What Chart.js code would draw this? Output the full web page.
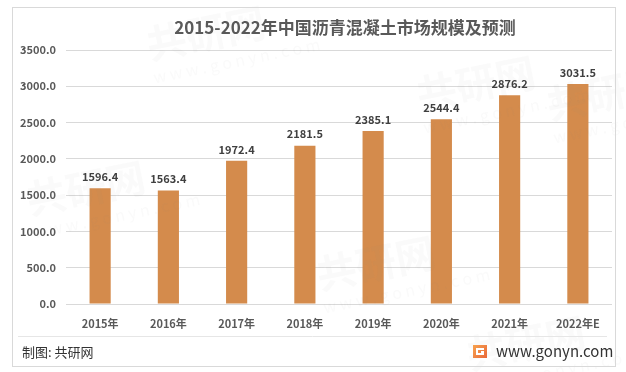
<!DOCTYPE html>
<html>
<head>
<meta charset="utf-8">
<script src="https://cdn.jsdelivr.net/npm/chart.js@4/dist/chart.umd.min.js"></script>
<style>
  html, body { margin: 0; padding: 0; background: #fff; }
  canvas { display: block; }
</style>
</head>
<body>
<canvas id="chart" width="626" height="372"></canvas>
<script>
const categories = ["2015年", "2016年", "2017年", "2018年", "2019年", "2020年", "2021年", "2022年E"];
const marketSize = [1596.4, 1563.4, 1972.4, 2181.5, 2385.1, 2544.4, 2876.2, 3031.5];
const yMin = 0;
const yMax = 3500;
const yStep = 500;

const TITLE = "2015-2022年中国沥青混凝土市场规模及预测";
const FONT = '"Noto Sans CJK SC", "Noto Sans", sans-serif';

// background, frame, title, value labels, footer
const decor = {
  id: "decor",
  beforeDraw(chart) {
    const ctx = chart.ctx;
    ctx.save();
    ctx.fillStyle = "#ffffff";
    ctx.fillRect(0, 0, chart.width, chart.height);
    ctx.restore();
  },
  afterDraw(chart) {
    const ctx = chart.ctx;
    const area = chart.chartArea;
    ctx.save();

    // watermarks
    ctx.fillStyle = "rgba(150,150,150,0.045)";
    [[150, 60], [420, 110], [30, 215], [320, 290], [550, 120], [470, 370]].forEach(([x, y]) => {
      ctx.save();
      ctx.translate(x, y);
      ctx.rotate(-0.2);
      ctx.font = "bold 40px " + FONT;
      ctx.fillText("共研网", 0, 0);
      ctx.font = "16px " + FONT;
      ctx.fillText("w w w . g o n y n . c o m", 0, 24);
      ctx.restore();
    });

    // frame
    ctx.strokeStyle = "#d9d9d9";
    ctx.lineWidth = 1;
    ctx.strokeRect(12.5, 7.5, 603, 359);

    // title
    ctx.fillStyle = "#595959";
    ctx.font = "bold 17px " + FONT;
    ctx.textAlign = "center";
    ctx.textBaseline = "middle";
    ctx.fillText(TITLE, 345, 28);

    // value labels
    const meta = chart.getDatasetMeta(0);
    ctx.fillStyle = "#404040";
    ctx.font = "bold 11px " + FONT;
    ctx.textBaseline = "bottom";
    meta.data.forEach((bar, i) => {
      ctx.fillText(marketSize[i].toFixed(1), bar.x, bar.y - 6);
    });

    // separator
    ctx.strokeStyle = "#e6e6e6";
    ctx.beginPath();
    ctx.moveTo(18, 336.5);
    ctx.lineTo(607, 336.5);
    ctx.stroke();

    // footer
    ctx.fillStyle = "#333333";
    ctx.textAlign = "left";
    ctx.textBaseline = "middle";
    ctx.font = "13px " + FONT;
    ctx.fillText("制图: 共研网", 22, 352);

    // logo
    const g = ctx.createLinearGradient(473, 346, 487, 358);
    g.addColorStop(0, "#f6a04d");
    g.addColorStop(1, "#e9683a");
    ctx.fillStyle = g;
    ctx.fillRect(473, 345, 14, 13);
    ctx.fillStyle = "#ffffff";
    ctx.fillRect(476, 348, 8, 2);
    ctx.fillRect(476, 348, 2, 7);
    ctx.fillRect(476, 353, 8, 2);
    ctx.fillRect(481, 351, 3, 2);

    ctx.fillStyle = "#333333";
    ctx.font = "15px " + FONT;
    ctx.fillText("www.gonyn.com", 496, 351);

    ctx.restore();
  }
};

new Chart(document.getElementById("chart"), {
  type: "bar",
  data: {
    labels: categories,
    datasets: [{
      data: marketSize,
      backgroundColor: "#d48b4c",
      borderWidth: 0,
      barPercentage: 0.31,
      categoryPercentage: 1
    }]
  },
  options: {
    responsive: false,
    animation: false,
    devicePixelRatio: 1,
    layout: { padding: { left: 10, right: 14, top: 50, bottom: 38 } },
    plugins: {
      legend: { display: false },
      title: { display: false },
      tooltip: { enabled: false }
    },
    scales: {
      x: {
        grid: { display: false, drawTicks: false },
        border: { display: false },
        ticks: {
          color: "#595959",
          font: { family: FONT, size: 11, weight: "bold" },
          padding: 13,
          maxRotation: 0
        },
        afterFit(scale) { scale.height = 30; }
      },
      y: {
        min: yMin,
        max: yMax,
        grid: { color: "#d9d9d9", drawTicks: false },
        border: { display: false },
        ticks: {
          stepSize: yStep,
          color: "#595959",
          font: { family: FONT, size: 11, weight: "bold" },
          padding: 10,
          callback: v => Number(v).toFixed(1)
        },
        afterFit(scale) { scale.width = 56; }
      }
    }
  },
  plugins: [decor]
});
</script>
</body>
</html>
